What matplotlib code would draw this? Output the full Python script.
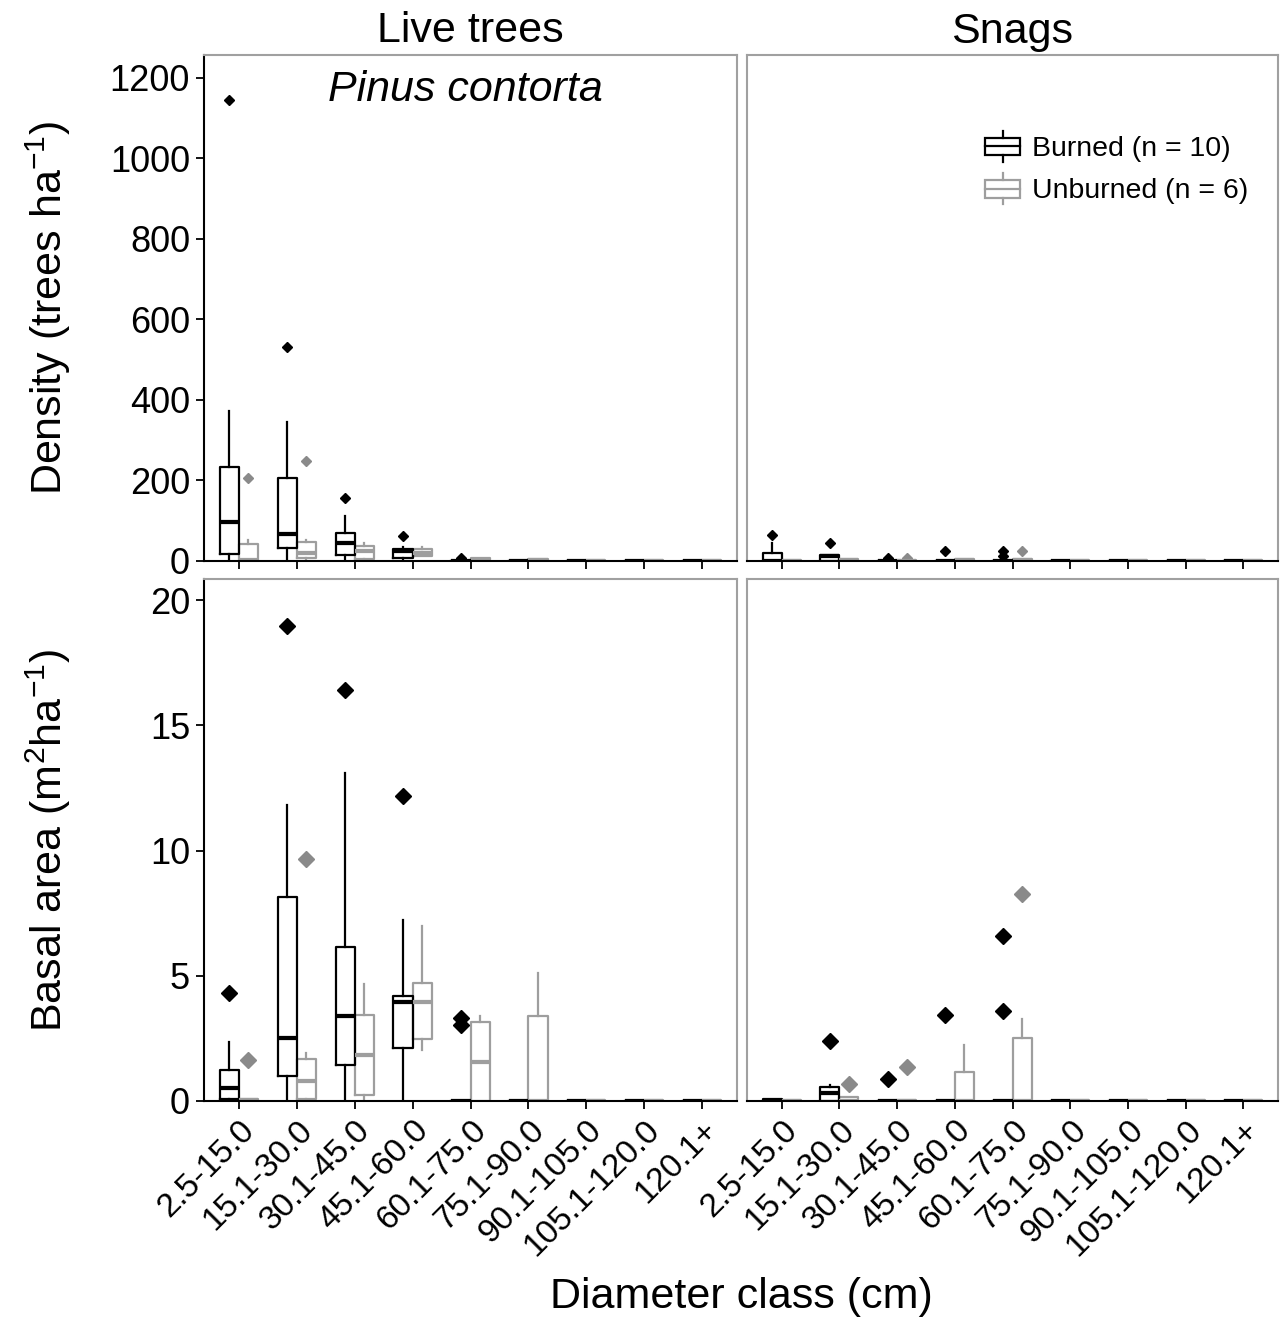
import matplotlib
matplotlib.use('Agg')
from matplotlib import pyplot as plt
from matplotlib.patches import Patch, Rectangle
from matplotlib.lines import Line2D
from matplotlib.legend_handler import HandlerBase

plt.rcParams['font.family'] = ['Liberation Sans', 'DejaVu Sans']
plt.rcParams['mathtext.fontset'] = 'custom'
plt.rcParams['mathtext.rm'] = 'Liberation Sans'
plt.rcParams['mathtext.it'] = 'Liberation Sans:italic'
plt.rcParams['mathtext.default'] = 'regular'

classes = ['2.5-15.0', '15.1-30.0', '30.1-45.0', '45.1-60.0', '60.1-75.0',
           '75.1-90.0', '90.1-105.0', '105.1-120.0', '120.1+']

# five-number summaries per diameter class: (low whisker, q1, median, q3, high whisker)
live_den_burned = [(0, 18, 96, 233, 373), (0, 33, 67, 205, 345), (0, 14, 45, 70, 113),
                   (0, 8, 25, 29, 36), (0, 0, 0, 0, 0), (0, 0, 0, 0, 0),
                   (0, 0, 0, 0, 0), (0, 0, 0, 0, 0), (0, 0, 0, 0, 0)]
live_den_burned_out = [[1145], [532], [156], [63], [8], [], [], [], []]
live_den_unburned = [(0, 0, 2, 42, 52), (0, 7, 21, 46, 52), (0, 4, 25, 38, 44),
                     (13, 13, 21, 30, 34), (0, 0, 2, 7, 8), (0, 0, 2, 5, 6),
                     (0, 0, 1, 2, 2), (0, 0, 1, 2, 2), (0, 0, 1, 2, 2)]
live_den_unburned_out = [[207], [248], [], [], [], [], [], [], []]

snag_den_burned = [(0, 0, 0, 21, 44), (0, 0, 12, 14, 14), (0, 0, 0, 0, 0),
                   (0, 0, 0, 0, 0), (0, 0, 0, 0, 0), (0, 0, 0, 0, 0),
                   (0, 0, 0, 0, 0), (0, 0, 0, 0, 0), (0, 0, 0, 0, 0)]
snag_den_burned_out = [[64], [44], [8], [26], [26, 12], [], [], [], []]
snag_den_unburned = [(0, 0, 1, 3, 3), (0, 0, 2, 4, 4), (0, 0, 1, 2, 2),
                     (0, 0, 2, 4, 4), (0, 0, 2, 4, 4), (0, 0, 1, 2, 2),
                     (0, 0, 1, 2, 2), (0, 0, 1, 2, 2), (0, 0, 1, 2, 2)]
snag_den_unburned_out = [[], [], [8], [], [26], [], [], [], []]

live_ba_burned = [(0, 0.09, 0.50, 1.22, 2.34), (0, 0.99, 2.50, 8.16, 11.84),
                  (0, 1.42, 3.41, 6.14, 13.1), (0, 2.10, 3.94, 4.19, 7.23),
                  (0, 0, 0, 0, 0), (0, 0, 0, 0, 0), (0, 0, 0, 0, 0),
                  (0, 0, 0, 0, 0), (0, 0, 0, 0, 0)]
live_ba_burned_out = [[4.30], [18.97], [16.41], [12.17], [3.32, 3.04], [], [], [], []]
live_ba_unburned = [(0, 0, 0.03, 0.09, 0.09), (0, 0.09, 0.81, 1.66, 1.92),
                    (0, 0.23, 1.85, 3.45, 4.67), (2.02, 2.48, 3.94, 4.72, 6.97),
                    (0, 0, 1.56, 3.14, 3.38), (0, 0, 0, 3.38, 5.11),
                    (0, 0, 0, 0.03, 0.03), (0, 0, 0, 0.03, 0.03), (0, 0, 0, 0.03, 0.03)]
live_ba_unburned_out = [[1.62], [9.65], [], [], [], [], [], [], []]

snag_ba_burned = [(0, 0, 0, 0.08, 0.08), (0, 0, 0.31, 0.56, 0.65), (0, 0, 0, 0, 0),
                  (0, 0, 0, 0, 0), (0, 0, 0, 0, 0), (0, 0, 0, 0, 0),
                  (0, 0, 0, 0, 0), (0, 0, 0, 0, 0), (0, 0, 0, 0, 0)]
snag_ba_burned_out = [[], [2.39], [0.89], [3.45], [6.61, 3.6], [], [], [], []]
snag_ba_unburned = [(0, 0, 0, 0.02, 0.02), (0, 0, 0, 0.17, 0.17), (0, 0, 0, 0.02, 0.02),
                    (0, 0, 0, 1.17, 2.23), (0, 0, 0, 2.5, 3.28), (0, 0, 0, 0.02, 0.02),
                    (0, 0, 0, 0.02, 0.02), (0, 0, 0, 0.02, 0.02), (0, 0, 0, 0.02, 0.02)]
snag_ba_unburned_out = [[], [0.69], [1.34], [], [8.27], [], [], [], []]

BLACK = 'black'
GREY = '#9e9e9e'
GREY_PT = '#8a8a8a'
FRAME = '#a0a0a0'


def draw_boxes(ax, stats, outliers, offset, color, pcolor, lw, ms):
    bstats = []
    for s, o in zip(stats, outliers):
        bstats.append(dict(whislo=s[0], q1=s[1], med=s[2], q3=s[3], whishi=s[4], fliers=o))
    pos = [i + offset for i in range(len(stats))]
    ax.bxp(bstats, positions=pos, widths=0.33, showcaps=False, manage_ticks=False,
           boxprops=dict(color=color, lw=lw),
           whiskerprops=dict(color=color, lw=lw),
           medianprops=dict(color=color, lw=lw * 1.9, solid_capstyle='butt'),
           flierprops=dict(marker='D', mfc=pcolor, mec=pcolor, ms=ms, ls='none'))


class BoxGlyph(HandlerBase):
    def create_artists(self, legend, orig_handle, xdescent, ydescent,
                       width, height, fontsize, trans):
        c = orig_handle.get_edgecolor()
        x0, y0 = -xdescent, -ydescent
        box = Rectangle((x0, y0 + 0.22 * height), width, 0.56 * height,
                        fill=False, ec=c, lw=1.6, transform=trans)
        med = Line2D([x0, x0 + width], [y0 + 0.5 * height] * 2, color=c, lw=1.6, transform=trans)
        wt = Line2D([x0 + width / 2] * 2, [y0 + 0.78 * height, y0 + height], color=c, lw=1.6, transform=trans)
        wb = Line2D([x0 + width / 2] * 2, [y0, y0 + 0.22 * height], color=c, lw=1.6, transform=trans)
        return [box, med, wt, wb]


fig = plt.figure(figsize=(12.8, 13.21), dpi=100)
W, H = 1280, 1321
cols = [(204, 737), (747, 1278)]
rows = [(55, 561), (579, 1101)]
axes = {}
for r, (yt, yb) in enumerate(rows):
    for c, (xl, xr) in enumerate(cols):
        axes[(r, c)] = fig.add_axes([xl / W, 1 - yb / H, (xr - xl) / W, (yb - yt) / H])

panels = {
    (0, 0): (live_den_burned, live_den_burned_out, live_den_unburned, live_den_unburned_out),
    (0, 1): (snag_den_burned, snag_den_burned_out, snag_den_unburned, snag_den_unburned_out),
    (1, 0): (live_ba_burned, live_ba_burned_out, live_ba_unburned, live_ba_unburned_out),
    (1, 1): (snag_ba_burned, snag_ba_burned_out, snag_ba_unburned, snag_ba_unburned_out),
}

for (r, c), ax in axes.items():
    b, bo, u, uo = panels[(r, c)]
    ms = 5.5 if r == 0 else 8
    draw_boxes(ax, u, uo, 0.165, GREY, GREY_PT, 1.6, ms)
    draw_boxes(ax, b, bo, -0.165, BLACK, BLACK, 1.6, ms)
    ax.set_xlim(-0.6, 8.6)
    ax.set_xticks(range(len(classes)))
    if r == 0:
        ax.set_ylim(0, 1257)
        ax.set_yticks([0, 200, 400, 600, 800, 1000, 1200])
        ax.set_xticklabels([])
    else:
        ax.set_ylim(0, 20.85)
        ax.set_yticks([0, 5, 10, 15, 20])
        ax.set_xticklabels(classes, rotation=45, ha='right', va='top',
                           rotation_mode='anchor', fontsize=24)
    for side in ['top', 'right', 'left']:
        ax.spines[side].set_color(FRAME)
        ax.spines[side].set_linewidth(1.5)
    ax.spines['bottom'].set_color('black')
    ax.spines['bottom'].set_linewidth(1.5)
    ax.tick_params(direction='out', length=6, width=1.3, color='black', labelsize=26, pad=4)
    if r == 1:
        ax.tick_params(axis='x', labelsize=24)
    if c == 0:
        ax.spines['left'].set_color('black')
    else:
        ax.tick_params(axis='y', left=False, labelleft=False)

axes[(0, 0)].set_title('Live trees', fontsize=31, pad=9)
axes[(0, 1)].set_title('Snags', fontsize=31, pad=9)
axes[(0, 0)].text(0.49, 0.93, 'Pinus contorta', style='italic', fontsize=31,
                  ha='center', va='center', transform=axes[(0, 0)].transAxes)

fig.text(48 / W, 1 - 308 / H, r'Density (trees ha$^{-1}$)', rotation=90,
         ha='center', va='center', fontsize=31)
fig.text(48 / W, 1 - 840 / H, r'Basal area (m$^2$ha$^{-1}$)', rotation=90,
         ha='center', va='center', fontsize=31)
fig.text(741 / W, 1 - 1297 / H, 'Diameter class (cm)', ha='center', va='center', fontsize=31)

h_b = Patch(facecolor='none', edgecolor=BLACK)
h_u = Patch(facecolor='none', edgecolor=GREY)
axes[(0, 1)].legend([h_b, h_u], ['Burned (n = 10)', 'Unburned (n = 6)'],
                    handler_map={Patch: BoxGlyph()}, loc='upper left',
                    bbox_to_anchor=(0.448, 0.85), frameon=False, fontsize=20.5,
                    borderpad=0, borderaxespad=0, handlelength=1.25,
                    handleheight=1.3, handletextpad=0.4, labelspacing=0.4)

plt.savefig('out.png', dpi=100)
